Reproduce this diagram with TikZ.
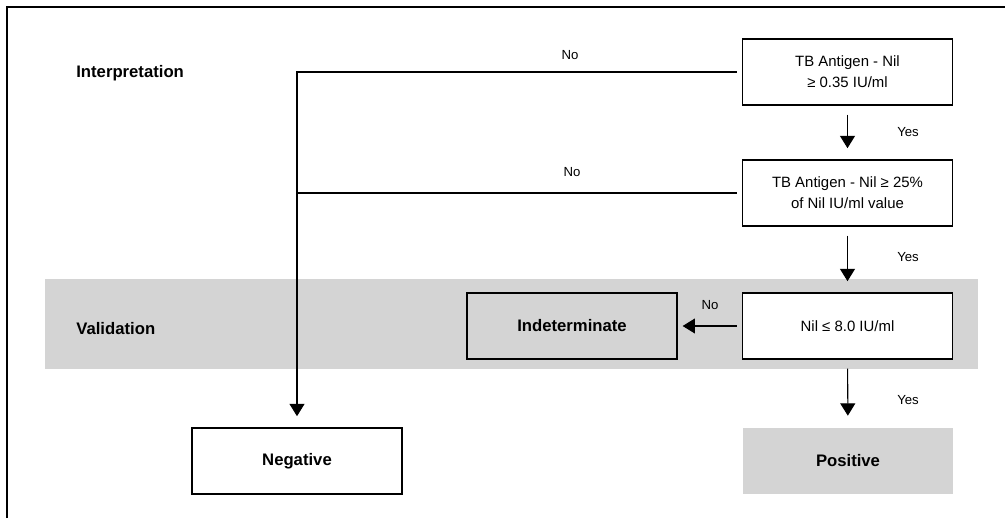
\documentclass[tikz,border=0pt]{standalone}
\usepackage{fontspec}
\setmainfont{Liberation Sans}
\usetikzlibrary{positioning,arrows.meta}
\definecolor{bandgray}{RGB}{212,212,212}

\begin{document}
\begin{tikzpicture}[x=0.02cm,y=-0.02cm,
    box/.style={draw=black,line width=0.85pt,minimum width=4.2cm,minimum height=1.32cm,inner sep=0pt,align=center,font=\fontsize{8.5}{12}\selectfont},
    result/.style={box,font=\fontsize{9.5}{12}\selectfont\bfseries},
    lbl/.style={anchor=west,inner sep=0pt,font=\fontsize{9.5}{12}\selectfont\bfseries},
    ans/.style={inner sep=0pt,font=\fontsize{7.5}{9}\selectfont},
    line/.style={line width=0.6pt,shorten <=2.8pt},
    conn/.style={line width=0.6pt,-{Triangle[width=8.5pt,length=7pt]},shorten <=5pt,shorten >=6.3pt}]
    \useasboundingbox (0,0) rectangle (1005,518);
    % frame and validation band
    \draw[line width=1.1pt] (7,518) -- (7,7) -- (1005,7);
    \fill[bandgray] (45,279) rectangle (978,369);

    \node[lbl] (interp) at (76,73) {Interpretation};
    \node[lbl] (valid) at (76,329) {Validation};

    \node[box] (tbnil)  at (847.5,72)  {TB Antigen - Nil\\≥ 0.35 IU/ml};
    \node[box] (tbpct)  at (847.5,193) {TB Antigen - Nil ≥ 25\%\\of Nil IU/ml value};
    \node[box,fill=white] (nilmax) at (847.5,326) {Nil ≤ 8.0 IU/ml};
    \node[result] (indet) at (572,326) {Indeterminate};
    \node[result] (neg)   at (297,461) {Negative};
    \node[result,draw=none,fill=bandgray] (pos) at (848,460.5) {Positive};

    \node[ans] (no1)  at (570,55)  {No};
    \node[ans] (no2)  at (572,172) {No};
    \node[ans] (no3)  at (710,305) {No};
    \node[ans] (yes1) at (908,132) {Yes};
    \node[ans] (yes2) at (908,257) {Yes};
    \node[ans] (yes3) at (908,400) {Yes};

    \draw[conn,shorten <=2.8pt] (tbnil.west) -| (neg.north);
    \draw[line] (tbpct.west) -- (tbpct.west -| neg.north);
    \draw[conn] (tbnil) -- (tbpct);
    \draw[conn] (tbpct) -- (nilmax);
    \draw[conn] (nilmax) -- (pos);
    \draw[conn,shorten <=2.8pt,shorten >=2.8pt] (nilmax) -- (indet);
\end{tikzpicture}
\end{document}
